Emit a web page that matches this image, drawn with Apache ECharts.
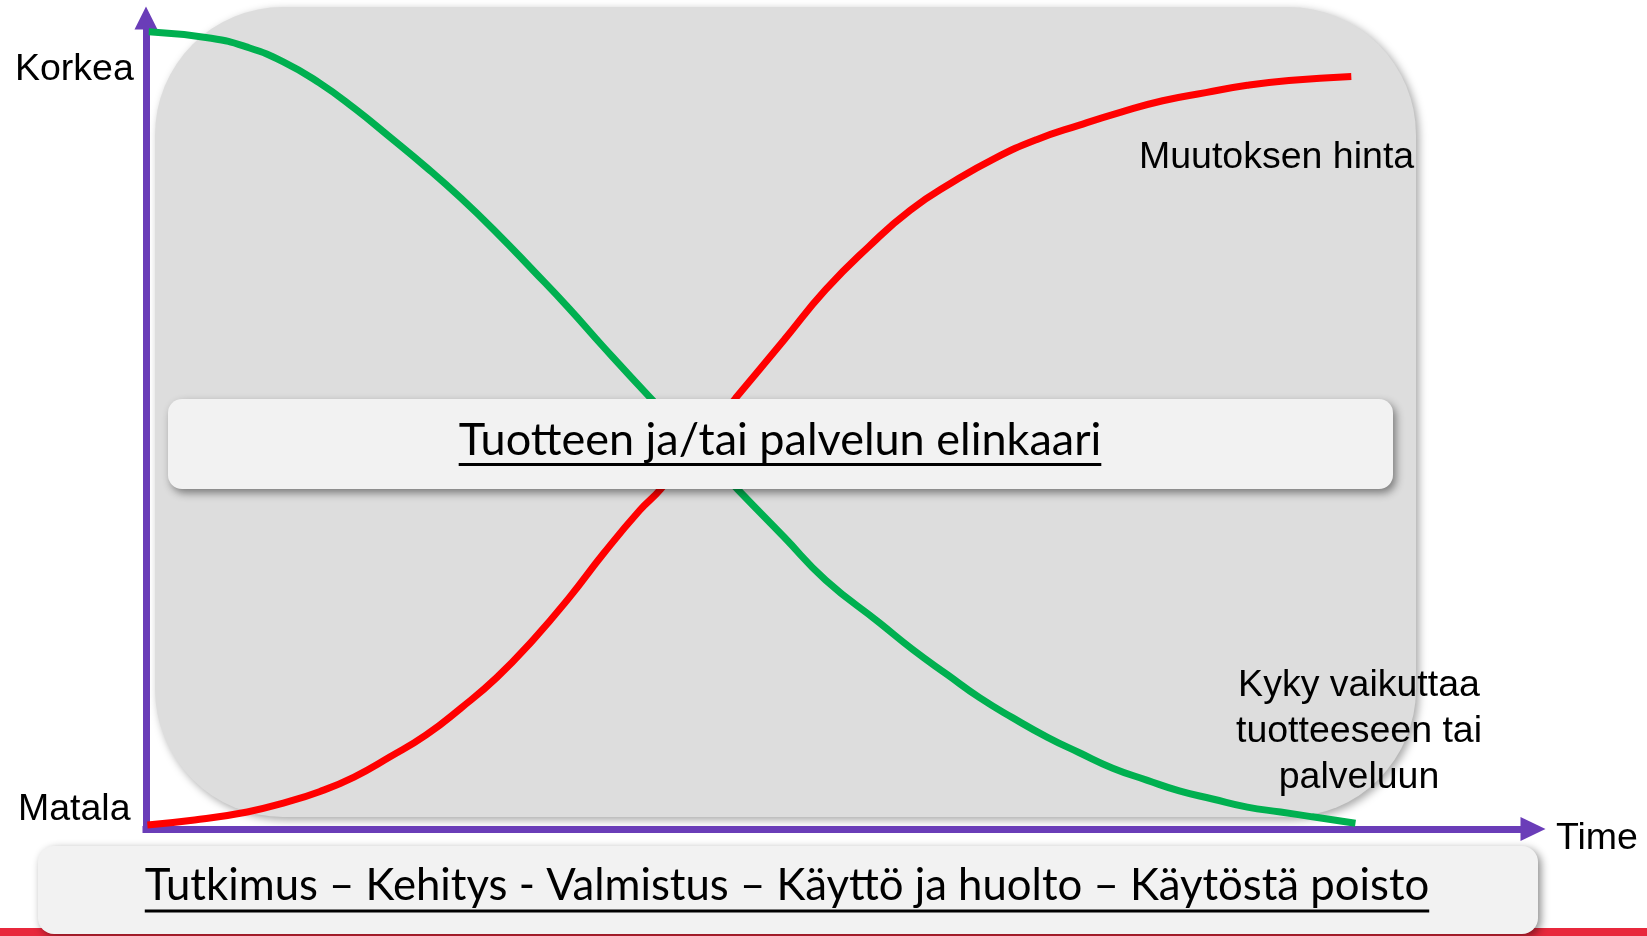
<!DOCTYPE html>
<html>
<head>
<meta charset="utf-8">
<title>Tuotteen ja/tai palvelun elinkaari</title>
<script src="https://cdn.jsdelivr.net/npm/echarts@6/dist/echarts.min.js"></script>
<style>
  html, body { margin: 0; padding: 0; background: #fff; }
  #chart { width: 1647px; height: 936px; }
</style>
</head>
<body>
<div id="chart"></div>
<script>
// values are in % of the axis length (x: time, y: Matala..Korkea)
const abilityX = [0.2, 4.7, 7.3, 9.9, 12.5, 15.0, 17.6, 20.2, 22.7, 25.3, 27.9, 30.5, 33.0, 36.4,
                  42.7, 46.0, 49.0, 52.9, 55.3, 57.8, 60.1, 62.5, 65.0, 67.3, 69.7, 72.2, 74.5,
                  76.9, 79.4, 81.8, 84.1, 87.2];
const abilityY = [98.3, 97.5, 96.4, 94.6, 92.0, 88.9, 85.3, 81.6, 77.8, 73.5, 68.9, 64.2, 59.4, 53.1,
                  41.8, 36.0, 30.7, 25.4, 22.1, 19.0, 16.2, 13.7, 11.3, 9.4, 7.5, 6.0, 4.7,
                  3.7, 2.7, 2.1, 1.5, 0.7];
const costX = [0.1, 3.5, 7.3, 9.9, 12.5, 15.0, 17.6, 20.2, 22.7, 25.3, 27.9, 30.5, 33.0, 35.6, 37.1,
               42.5, 46.0, 49.0, 52.1, 55.1, 58.2, 61.2, 64.2, 67.3, 70.3, 73.3, 76.4, 79.4, 82.4, 86.9];
const costY = [0.5, 1.1, 2.1, 3.2, 4.6, 6.4, 8.9, 11.6, 14.9, 18.7, 23.3, 28.5, 34.0, 39.3, 41.9,
               53.1, 60.3, 66.5, 71.8, 76.3, 79.8, 82.7, 85.0, 86.8, 88.4, 89.8, 90.8, 91.7, 92.3, 92.8];

const levelLabels = ['Korkea', 'Matala'];
const timeLabel = 'Time';
const costLabel = 'Muutoksen hinta';
const abilityLabel = 'Kyky vaikuttaa\ntuotteeseen tai\npalveluun';
const titleText = 'Tuotteen ja/tai palvelun elinkaari';
const phasesText = 'Tutkimus – Kehitys - Valmistus – Käyttö ja huolto – Käytöstä poisto';

const PURPLE = '#6a3db8';
const arialFont = '"Liberation Sans", Arial, sans-serif';
const calibriFont = 'Lato, "Open Sans", sans-serif';
const labelFont = '37.5px ' + arialFont;

// canvas measure for the underlines
const ctx = document.createElement('canvas').getContext('2d');
function textWidth(txt, size, family) {
  ctx.font = size + 'px ' + family;
  return ctx.measureText(txt).width;
}

function underlined(txt, cx, cy, size, lineY) {
  let w = textWidth(txt, size, calibriFont);
  return [
    {
      type: 'text', z: 12, x: cx, y: cy,
      style: { text: txt, fill: '#000', font: size + 'px ' + calibriFont, align: 'center', verticalAlign: 'middle' }
    },
    {
      type: 'line', z: 12,
      shape: { x1: cx - w / 2, y1: lineY, x2: cx + w / 2, y2: lineY },
      style: { stroke: '#000', lineWidth: 3 }
    }
  ];
}

function label(txt, x, y, align) {
  return {
    type: 'text', z: 12, x: x, y: y,
    style: { text: txt, fill: '#000', font: labelFont, lineHeight: 46, align: align, verticalAlign: 'middle' }
  };
}

let chart = echarts.init(document.getElementById('chart'));

let option = {
  animation: false,
  grid: { left: 146, right: 114, top: 18, bottom: 107 },
  xAxis: {
    type: 'value', min: 0, max: 100,
    splitLine: { show: false }, axisTick: { show: false }, axisLabel: { show: false },
    axisLine: {
      show: true, onZero: false,
      symbol: ['none', 'triangle'], symbolSize: [24, 25],
      lineStyle: { color: PURPLE, width: 7, cap: 'square' }
    }
  },
  yAxis: {
    type: 'value', min: 0, max: 100,
    splitLine: { show: false }, axisTick: { show: false }, axisLabel: { show: false },
    axisLine: {
      show: true, onZero: false,
      symbol: ['none', 'triangle'], symbolSize: [23, 23],
      lineStyle: { color: PURPLE, width: 7, cap: 'square' }
    }
  },
  series: [
    {
      name: 'Kyky vaikuttaa', type: 'line', smooth: 0.5, showSymbol: false, z: 3,
      lineStyle: { color: '#00b050', width: 7 },
      data: abilityX.map((x, i) => [x, abilityY[i]])
    },
    {
      name: 'Muutoksen hinta', type: 'line', smooth: 0.5, showSymbol: false, z: 3,
      lineStyle: { color: '#ff0000', width: 7 },
      data: costX.map((x, i) => [x, costY[i]])
    }
  ],
  graphic: [
    {
      type: 'rect', z: 0,
      shape: { x: 155, y: 7, width: 1261, height: 810, r: 128 },
      style: { fill: '#dddddd', shadowBlur: 8, shadowColor: 'rgba(0,0,0,0.35)', shadowOffsetX: 3, shadowOffsetY: 3 }
    },
    {
      type: 'rect', z: 0,
      shape: { x: 0, y: 928, width: 1647, height: 8 },
      style: { fill: '#e8283c' }
    },
    {
      type: 'rect', z: 10,
      shape: { x: 168, y: 399, width: 1225, height: 90, r: 14 },
      style: { fill: '#f2f2f2', shadowBlur: 8, shadowColor: 'rgba(0,0,0,0.45)', shadowOffsetX: 3, shadowOffsetY: 4 }
    },
    {
      type: 'rect', z: 10,
      shape: { x: 38, y: 846, width: 1500, height: 88, r: 16 },
      style: { fill: '#f2f2f2', shadowBlur: 8, shadowColor: 'rgba(0,0,0,0.45)', shadowOffsetX: 3, shadowOffsetY: 3 }
    },
    ...underlined(titleText, 780, 440, 45, 464.5),
    ...underlined(phasesText, 787, 886, 43.7, 911),
    label(levelLabels[0], 15, 70, 'left'),
    label(levelLabels[1], 18, 810, 'left'),
    label(timeLabel, 1556, 839, 'left'),
    label(costLabel, 1139, 158, 'left'),
    label(abilityLabel, 1359, 732, 'center')
  ]
};

chart.setOption(option);

window.onresize = () => {
  chart.resize();
};
</script>
</body>
</html>
